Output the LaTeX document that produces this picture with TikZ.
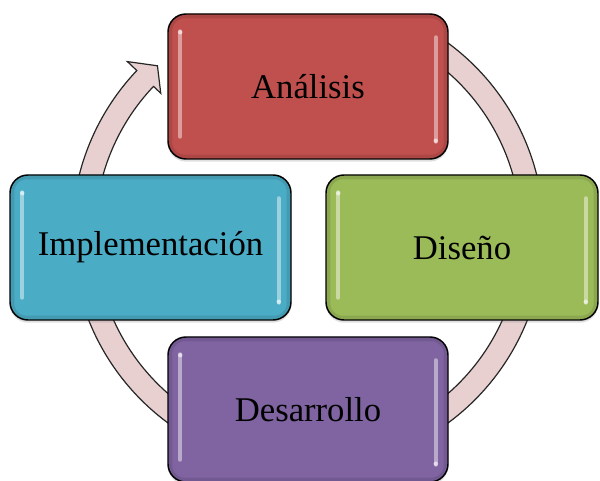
\documentclass[tikz,border=0pt]{standalone}
\usepackage{fontspec}
\setmainfont{Liberation Serif}
\usetikzlibrary{calc,shadows}

\definecolor{anared}{HTML}{C0504D}
\definecolor{disgreen}{HTML}{9BBB59}
\definecolor{desviolet}{HTML}{8064A2}
\definecolor{impblue}{HTML}{4BACC6}
\definecolor{ringpink}{RGB}{232,208,209}

\tikzset{
  fase/.style={draw=black, line width=1.1pt, rounded corners=13.5pt,
    minimum height=108.75pt, inner sep=0pt,
    font=\fontsize{26}{31}\selectfont,
    drop shadow={shadow xshift=0pt, shadow yshift=-2pt, opacity=0.25}},
  anillo/.style={draw=black!85, line width=0.9pt, fill=ringpink},
  borde/.style={black, opacity=0.1, line width=3pt, rounded corners=11pt},
  brillo/.style={white, opacity=0.45, line width=3pt, line cap=round}
}

\begin{document}
\begin{tikzpicture}[x=0.75pt, y=0.75pt]
    \useasboundingbox (0,0) rectangle (600,481);
    \coordinate (hub) at (308,248);

    \foreach \a/\b in {60/5, -10/-60, -120/-170}
      \draw[anillo] ([shift={(\a:236)}]hub) arc[start angle=\a, end angle=\b, radius=236]
        -- ([shift={(\b:213)}]hub) arc[start angle=\b, end angle=\a, radius=213] -- cycle;
    \draw[anillo] ([shift={(170:236)}]hub) arc[start angle=170, end angle=136.5, radius=236]
        -- ([shift={(136.5:249)}]hub) -- ([shift={(132:225)}]hub)
        -- ([shift={(136.5:203)}]hub) -- ([shift={(136.5:213)}]hub)
        arc[start angle=136.5, end angle=170, radius=213] -- cycle;

    \node[fase, fill=anared, minimum width=210pt] (ana) at (308,394.5) {Análisis};
    \node[fase, fill=disgreen, minimum width=204pt] (dis) at (462,233.5) {Diseño};
    \node[fase, fill=desviolet, minimum width=210pt] (des) at (308,71.5) {Desarrollo};
    \node[fase, fill=impblue, minimum width=210.75pt] (imp) at (150.5,233.5) {Implementación};

    \foreach \n in {ana,dis,des,imp} {
      \draw[borde] ($(\n.north west)+(3,-3)$) rectangle ($(\n.south east)+(-3,3)$);
      \draw[brillo] ($(\n.north west)+(13,-18)$) -- ($(\n.south west)+(13,23)$);
      \draw[brillo] ($(\n.north east)+(-13,-24)$) -- ($(\n.south east)+(-13,18)$);
      \fill[white, opacity=0.6] ($(\n.north west)+(13,-19)$) circle [radius=2.2];
      \fill[white, opacity=0.6] ($(\n.south east)+(-13,19)$) circle [radius=2.2];
    }
\end{tikzpicture}
\end{document}
